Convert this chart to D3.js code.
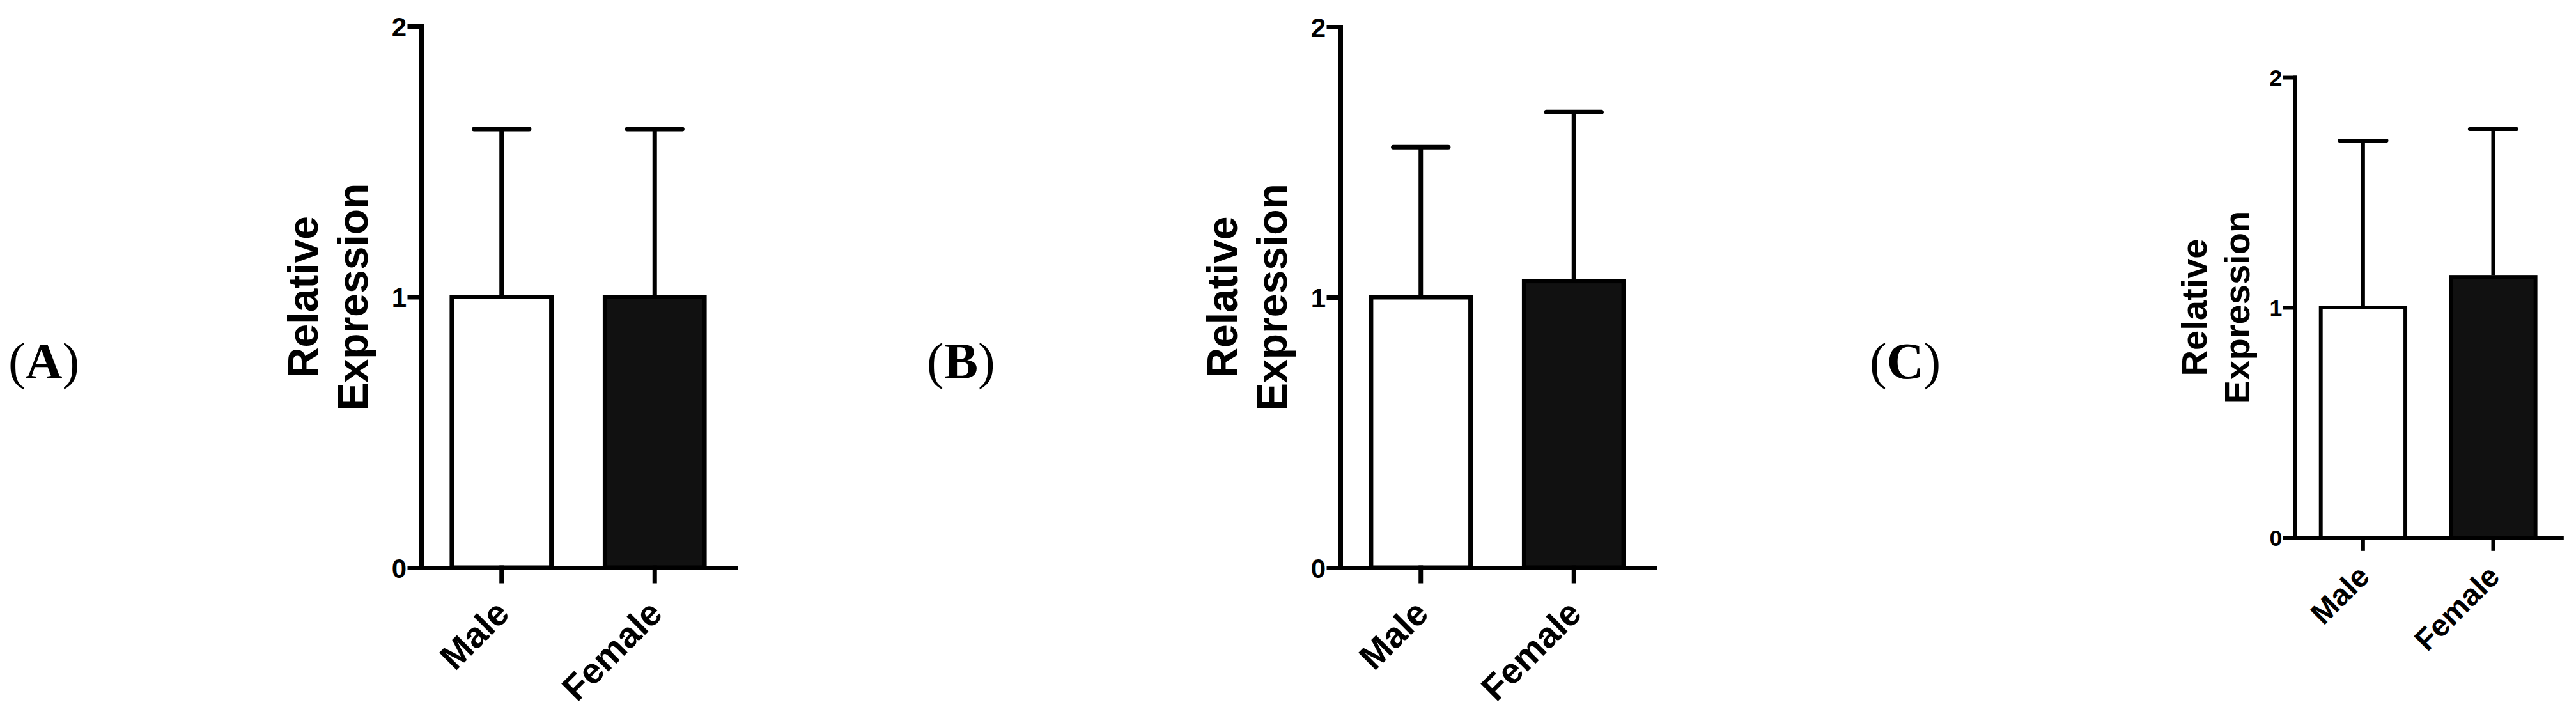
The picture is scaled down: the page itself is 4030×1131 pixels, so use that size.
<!DOCTYPE html>
<html>
<head>
<meta charset="utf-8">
<script src="https://cdn.jsdelivr.net/npm/d3@7"></script>
<style>
  body { margin: 0; background: #fff; }
  svg { display: block; }
</style>
</head>
<body>
<div id="chart"></div>
<script>
const categories = ["Male", "Female"];
const panelNames = ["A", "B", "C"];
const yTicks = [0, 1, 2];
const yTitle = ["Relative", "Expression"];

// mean and upper error (SD) for each panel, Male then Female
const meanA = [1.0, 1.0];
const errA = [0.62, 0.62];
const meanB = [1.0, 1.06];
const errB = [0.555, 0.625];
const meanC = [1.0, 1.133];
const errC = [0.725, 0.642];

const barFill = ["#ffffff", "#111111"];

const width = 4030;
const height = 1131;

// where each panel sits on the page (k = size factor, C is drawn smaller)
const panels = [
    { name: panelNames[0], mean: meanA, err: errA, axisX: 659, y0: 888, yTop: 41, k: 1, labelX: 13 },
    { name: panelNames[1], mean: meanB, err: errB, axisX: 2097, y0: 888, yTop: 42, k: 1, labelX: 1450 },
    { name: panelNames[2], mean: meanC, err: errC, axisX: 3590, y0: 841, yTop: 121, k: 0.85, labelX: 2925 }
];

const svg = d3.select("#chart").append("svg")
    .attr("width", width)
    .attr("height", height)
    .attr("viewBox", [0, 0, width, height]);

svg.append("rect")
    .attr("width", width)
    .attr("height", height)
    .attr("fill", "#fff");

function drawPanel(p) {
    const k = p.k;
    const sw = 7 * k;
    const plotW = 491 * k;

    const x = d3.scaleBand()
        .domain(categories)
        .range([p.axisX, p.axisX + plotW])
        .paddingInner(0.35)
        .paddingOuter(0.2);

    const y = d3.scaleLinear()
        .domain([0, 2])
        .range([p.y0, p.yTop]);

    const g = svg.append("g").attr("class", "panel-" + p.name);

    // bars
    g.selectAll("rect.bar")
        .data(categories)
        .join("rect")
        .attr("class", "bar")
        .attr("x", d => x(d))
        .attr("width", x.bandwidth())
        .attr("y", (d, i) => y(p.mean[i]))
        .attr("height", (d, i) => y(0) - y(p.mean[i]))
        .attr("fill", (d, i) => barFill[i])
        .attr("stroke", "#000")
        .attr("stroke-width", sw);

    // upper error bars
    const capW = 0.53 * (x.bandwidth() + sw);
    const eb = g.selectAll("g.err")
        .data(categories)
        .join("g")
        .attr("class", "err")
        .attr("stroke", "#000")
        .attr("stroke-width", sw);

    eb.append("line")
        .attr("x1", d => x(d) + x.bandwidth() / 2)
        .attr("x2", d => x(d) + x.bandwidth() / 2)
        .attr("y1", (d, i) => y(p.mean[i]) - sw / 2)
        .attr("y2", (d, i) => y(p.mean[i] + p.err[i]));

    eb.append("line")
        .attr("x1", d => x(d) + x.bandwidth() / 2 - capW / 2)
        .attr("x2", d => x(d) + x.bandwidth() / 2 + capW / 2)
        .attr("y1", (d, i) => y(p.mean[i] + p.err[i]))
        .attr("y2", (d, i) => y(p.mean[i] + p.err[i]))
        .attr("stroke-linecap", "round");

    // y axis
    const yAxis = d3.axisLeft(y)
        .tickValues(yTicks)
        .tickFormat(d3.format("d"))
        .tickSize(18 * k)
        .tickSizeOuter(0)
        .tickPadding(5 * k);

    const gy = g.append("g")
        .attr("transform", `translate(${p.axisX},0)`)
        .call(yAxis);

    // x axis
    const xAxis = d3.axisBottom(x)
        .tickSize(21 * k)
        .tickSizeOuter(0);

    const gx = g.append("g")
        .attr("transform", `translate(0,${p.y0})`)
        .call(xAxis);

    [gy, gx].forEach(ax => {
        ax.attr("color", "#000")
            .attr("font-family", "'Liberation Sans', Arial, sans-serif")
            .attr("font-weight", "bold");
        ax.selectAll("path.domain, line")
            .attr("stroke-width", sw)
            .attr("stroke-linecap", "square");
    });

    gy.selectAll("text")
        .attr("font-size", 42 * k)
        .attr("dy", "0.36em");

    gx.selectAll("text")
        .attr("font-size", 56 * k)
        .attr("text-anchor", "end")
        .attr("y", null)
        .attr("dy", null)
        .attr("transform", `translate(${15 * k},${75 * k}) rotate(-45)`);

    // y title, two lines
    const midY = (p.y0 + p.yTop) / 2;
    g.selectAll("text.ytitle")
        .data(yTitle)
        .join("text")
        .attr("class", "ytitle")
        .attr("transform", (d, i) => `translate(${p.axisX - (162 - 78 * i) * k},${midY}) rotate(-90)`)
        .attr("text-anchor", "middle")
        .attr("font-family", "'Liberation Sans', Arial, sans-serif")
        .attr("font-weight", "bold")
        .attr("font-size", 66 * k)
        .attr("fill", "#000")
        .text(d => d);

    // panel letter
    const lab = svg.append("text")
        .attr("x", p.labelX)
        .attr("y", 592)
        .attr("font-family", "'Liberation Serif', 'Times New Roman', serif")
        .attr("font-size", 80)
        .attr("fill", "#000");
    lab.append("tspan").text("(");
    lab.append("tspan").attr("font-weight", "bold").text(p.name);
    lab.append("tspan").text(")");
}

panels.forEach(drawPanel);
</script>
</body>
</html>
